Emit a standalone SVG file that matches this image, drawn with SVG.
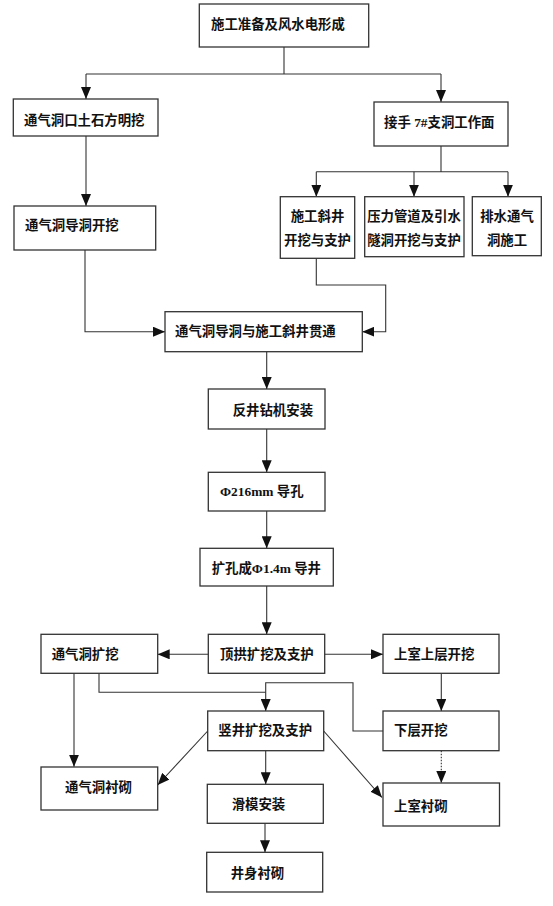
<svg xmlns="http://www.w3.org/2000/svg" width="553" height="906" viewBox="0 0 553 906">
<style>
.box{fill:#fff;stroke:#333;stroke-width:1.3}
.t{font-family:"Liberation Serif","Noto Sans CJK SC",serif;font-size:13.4px;font-weight:bold;fill:#111;dominant-baseline:central}
.m{text-anchor:middle}
.c{fill:none;stroke:#333;stroke-width:1.1}
.a{marker-end:url(#arr)}
.d{stroke-dasharray:1.5 1.5}
</style>
<defs>
<marker id="arr" markerUnits="userSpaceOnUse" markerWidth="12" markerHeight="10" refX="12" refY="5" orient="auto">
<path d="M0,0 L12,5 L0,10 z" fill="#111"/>
</marker>
</defs>
<rect width="553" height="906" fill="#fff"/>
<g id="connectors">
<path class="c" d="M284,47 V74 M86,74 H441"/>
<path class="c a" d="M86,74 V99"/>
<path class="c a" d="M441,74 V102"/>
<path class="c a" d="M86,136 V206"/>
<path class="c" d="M441,146 V171.7 M316.3,171.7 H508"/>
<path class="c a" d="M316.3,171.7 V196.7"/>
<path class="c a" d="M414,171.7 V196.7"/>
<path class="c a" d="M508,171.7 V196.7"/>
<path class="c a" d="M85,250 V331.7 H165"/>
<path class="c a" d="M316.3,258.3 V285 H385.7 V331.7 H362.3"/>
<path class="c a" d="M266.7,351.7 V389"/>
<path class="c a" d="M266.7,429 V472.3"/>
<path class="c a" d="M266.7,511 V548.3"/>
<path class="c a" d="M266.7,586 V634.3"/>
<path class="c a" d="M208.3,654.3 H157.7"/>
<path class="c a" d="M324.7,654.3 H383"/>
<path class="c a" d="M74,673.3 V766.7"/>
<path class="c" d="M99,673.3 V692.3 H265.7"/>
<path class="c a" d="M383,731 H353 V682.7 H265.7 V711"/>
<path class="c a" d="M441.3,673.3 V711"/>
<path class="c a d" d="M441.3,750.7 V783"/>
<path class="c a" d="M207.7,731 L157.7,785"/>
<path class="c a" d="M323.7,731 L382,797.5"/>
<path class="c a" d="M265.7,750.7 V784.3"/>
<path class="c a" d="M265,823.3 V852.3"/>
</g>
<g id="n1"><rect class="box" x="199.3" y="4" width="169.4" height="43"/><text class="t" x="211" y="24.5">施工准备及风水电形成</text></g>
<g id="n2"><rect class="box" x="13.3" y="99" width="144.7" height="37"/><text class="t" x="24" y="120.5">通气洞口土石方明挖</text></g>
<g id="n3"><rect class="box" x="374" y="102" width="134" height="44"/><text class="t" x="384" y="122">接手 7#支洞工作面</text></g>
<g id="n4"><rect class="box" x="14" y="206" width="141.7" height="44"/><text class="t" x="25" y="225">通气洞导洞开挖</text></g>
<g id="n5"><rect class="box" x="280.3" y="196.7" width="74.4" height="61.6"/><text class="t m" x="317.5" y="216.7">施工斜井</text><text class="t m" x="317.5" y="240">开挖与支护</text></g>
<g id="n6"><rect class="box" x="364.7" y="196.7" width="99.3" height="60"/><text class="t m" x="414" y="216.7">压力管道及引水</text><text class="t m" x="414" y="240">隧洞开挖与支护</text></g>
<g id="n7"><rect class="box" x="472.3" y="196.7" width="69" height="59"/><text class="t m" x="507" y="216.7">排水通气</text><text class="t m" x="507" y="240">洞施工</text></g>
<g id="n8"><rect class="box" x="165" y="311.7" width="197.3" height="40"/><text class="t" x="175" y="331.7">通气洞导洞与施工斜井贯通</text></g>
<g id="n9"><rect class="box" x="208.3" y="389" width="116.7" height="40"/><text class="t" x="232.7" y="410">反井钻机安装</text></g>
<g id="n10"><rect class="box" x="208.3" y="472.3" width="116.7" height="38.7"/><text class="t" x="220" y="491.7">Φ216mm 导孔</text></g>
<g id="n11"><rect class="box" x="200" y="548.3" width="133.3" height="37.7"/><text class="t" x="211.7" y="568.3">扩孔成Φ1.4m 导井</text></g>
<g id="n12"><rect class="box" x="208.3" y="634.3" width="116.4" height="39"/><text class="t" x="220" y="654.3">顶拱扩挖及支护</text></g>
<g id="n13"><rect class="box" x="41" y="634.3" width="116.7" height="39"/><text class="t" x="51.7" y="654.3">通气洞扩挖</text></g>
<g id="n14"><rect class="box" x="383" y="634.3" width="116" height="39"/><text class="t" x="394" y="654.3">上室上层开挖</text></g>
<g id="n15"><rect class="box" x="207.7" y="711" width="116" height="39.7"/><text class="t" x="218.3" y="730">竖井扩挖及支护</text></g>
<g id="n16"><rect class="box" x="383" y="711" width="116" height="39.7"/><text class="t" x="394" y="730">下层开挖</text></g>
<g id="n17"><rect class="box" x="41" y="767" width="116.7" height="43"/><text class="t" x="65" y="787.5">通气洞衬砌</text></g>
<g id="n18"><rect class="box" x="207.3" y="784.3" width="116" height="39"/><text class="t" x="231.7" y="804.3">滑模安装</text></g>
<g id="n19"><rect class="box" x="383" y="783" width="116.5" height="43"/><text class="t" x="394" y="806">上室衬砌</text></g>
<g id="n20"><rect class="box" x="206.7" y="852.3" width="116" height="39.7"/><text class="t" x="230.7" y="873.3">井身衬砌</text></g>
</svg>
